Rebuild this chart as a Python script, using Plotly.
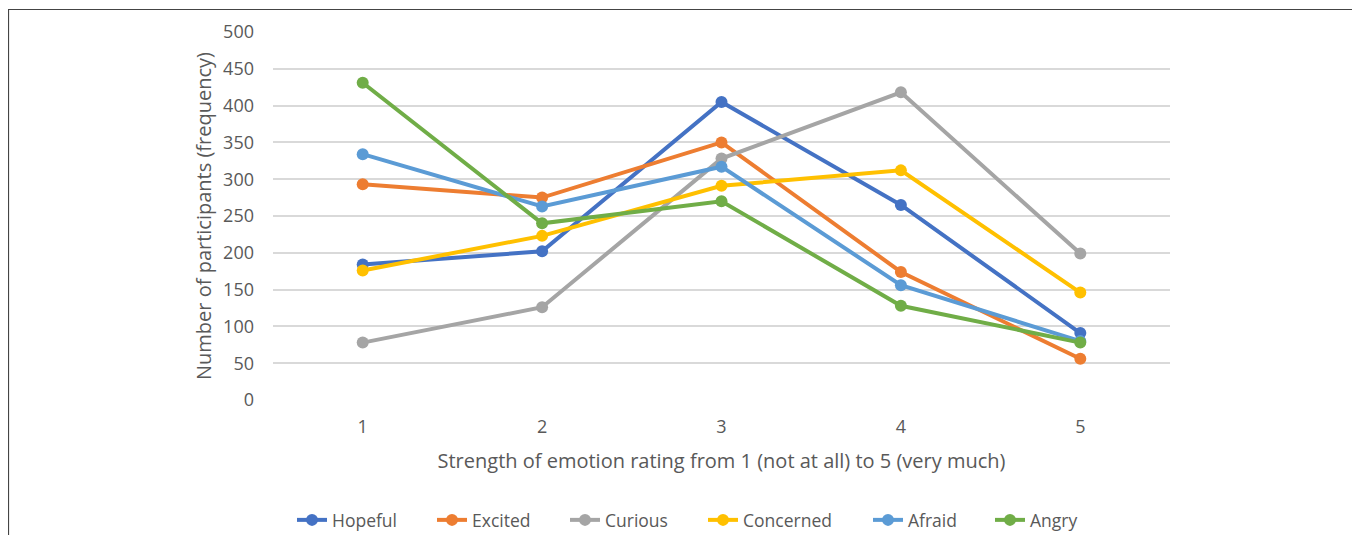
import plotly.graph_objects as go

categories = ["1", "2", "3", "4", "5"]
hopeful = [184, 202, 405, 265, 91]
excited = [293, 275, 350, 174, 56]
curious = [78, 126, 328, 418, 199]
concerned = [176, 223, 291, 312, 146]
afraid = [334, 263, 317, 156, 80]
angry = [431, 240, 270, 128, 78]

series_names = ["Hopeful", "Excited", "Curious", "Concerned", "Afraid", "Angry"]
series_values = [hopeful, excited, curious, concerned, afraid, angry]
series_colors = ["#4472C4", "#ED7D31", "#A5A5A5", "#FFC000", "#5B9BD5", "#70AD47"]
legend_widths = [95, 88, 93, 120, 77, 60]

FONT = "Open Sans, Liberation Sans, sans-serif"
GREY = "#595959"

# page has an 8px body margin; work in page pixels and convert
OFF = 8
W, H = 1360 - OFF, 535 - OFF
PL, PR, PT, PB = 273, 1170, 32, 400  # plot area in page px
L, R, T, B = PL - OFF, W - (PR - OFF), PT - OFF, H - (PB - OFF)
pw, ph = W - L - R, H - T - B


def px(x):
    return (x - OFF - L) / pw


def py(y):
    return (H - B - (y - OFF)) / ph


fig = go.Figure()
for name, vals, color, lw in zip(series_names, series_values, series_colors, legend_widths):
    fig.add_trace(go.Scatter(
        x=categories, y=vals, name=name, mode="lines+markers",
        line=dict(color=color, width=4),
        marker=dict(color=color, size=12),
        legendwidth=lw,
    ))

fig.update_layout(
    width=W, height=H,
    margin=dict(l=L, r=R, t=T, b=B, autoexpand=False),
    paper_bgcolor="white", plot_bgcolor="white",
    font=dict(family=FONT, color=GREY, size=17),
    showlegend=True,
    legend=dict(orientation="h", x=px(292), xanchor="left", y=py(520), yanchor="middle",
                font=dict(size=17.5, color=GREY), tracegroupgap=0),
    xaxis=dict(
        type="category", range=[-0.5, 4.5], showgrid=False, zeroline=False,
        showline=False, ticks="", tickfont=dict(size=18, color=GREY),
        ticklabelstandoff=14,
        title=dict(text="Strength of emotion rating from 1 (not at all) to 5 (very much)",
                   font=dict(size=20, color=GREY), standoff=16),
    ),
    yaxis=dict(
        range=[0, 500], dtick=50, showgrid=True, gridcolor="#D9D9D9", gridwidth=1.5,
        zeroline=False, showline=False, ticks="", tickfont=dict(size=18, color=GREY),
        ticklabelstandoff=18,
        title=dict(text="Number of participants (frequency)",
                   font=dict(size=20, color=GREY), standoff=6),
    ),
    shapes=[
        dict(type="rect", xref="paper", yref="paper",
             x0=px(8.5), x1=px(1354.5), y0=py(560), y1=py(9.5),
             line=dict(color="#444444", width=1.2), fillcolor="rgba(0,0,0,0)", layer="below"),
    ],
)

fig.write_html("out.html", post_script="document.body.style.overflow='hidden';")
